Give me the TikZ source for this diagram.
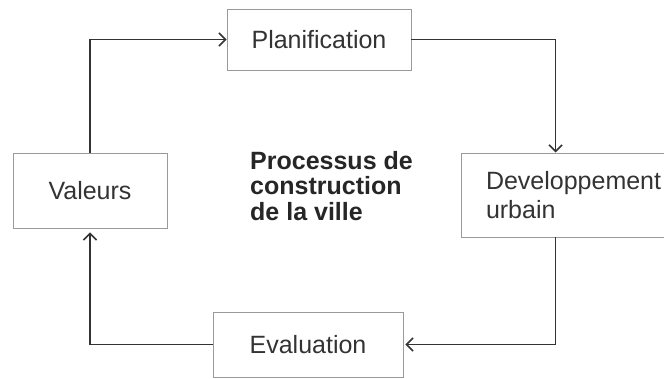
\documentclass[tikz,border=0pt]{standalone}
\usepackage{fontspec}
\setmainfont{Liberation Sans}
\usepackage{xcolor}
\usepackage{tikz}
\usetikzlibrary{arrows.meta}
\definecolor{boxgray}{HTML}{9A9A9A}
\definecolor{txtgray}{HTML}{333333}
\definecolor{linegray}{HTML}{333333}
\tikzset{
    stage/.style={draw=boxgray, line width=0.9pt, text=txtgray, inner sep=0pt,
        font=\fontsize{25}{29}\selectfont},
    flow/.style={draw=linegray, line width=1.3pt,
        -{Straight Barb[length=6.5pt, width=13pt, line width=1.6pt]}}
}
\begin{document}
\begin{tikzpicture}[x=1pt, y=-1pt]
    \useasboundingbox (0,0) rectangle (664,378);
    \clip (0,0) rectangle (664,378);
    \node[stage, minimum width=184, minimum height=61] (planif) at (319,39.5) {Planification};
    \node[stage, minimum width=154, minimum height=75] (valeurs) at (90,190.5) {Valeurs};
    \node[stage, minimum width=239, minimum height=84, inner xsep=25pt,
        text width=189pt, align=left] (devel) at (580.5,195) {Developpement\\urbain};
    \node[stage, minimum width=190, minimum height=65] (eval) at (308,344.5) {Evaluation};
    \node[text=black!85, font=\bfseries\fontsize{25}{25.5}\selectfont, align=left,
        anchor=west, inner sep=0pt] (titre) at (250,186) {Processus de\\construction\\de la ville};
    \draw[flow] (valeurs.north) |- (planif.west);
    \draw[flow] (planif.east) -| ([xshift=95pt]devel.north west);
    \draw[flow, shorten >=2pt] ([xshift=95pt]devel.south west) |- (eval.east);
    \draw[flow, shorten >=4pt] (eval.west) -| (valeurs.south);
\end{tikzpicture}
\end{document}
